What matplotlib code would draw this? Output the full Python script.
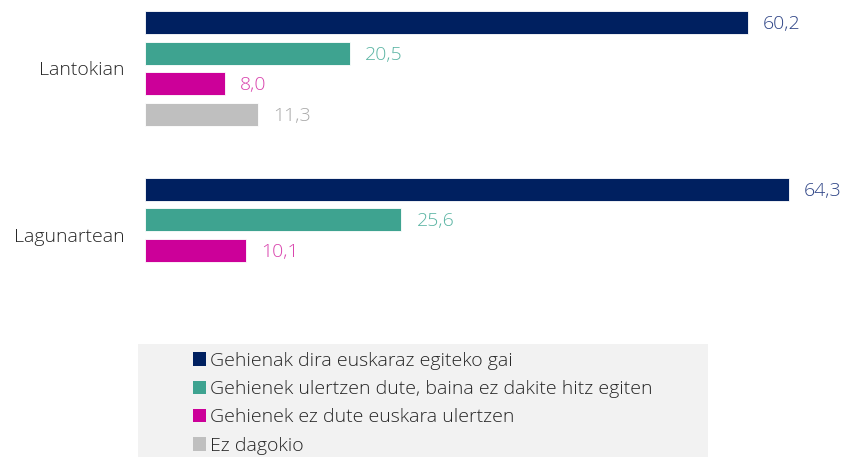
import matplotlib
matplotlib.use("Agg")
import matplotlib.pyplot as plt
from matplotlib.patches import Rectangle
import numpy as np

categories = ["Lantokian", "Lagunartean"]
series = ["Gehienak dira euskaraz egiteko gai",
          "Gehienek ulertzen dute, baina ez dakite hitz egiten",
          "Gehienek ez dute euskara ulertzen",
          "Ez dagokio"]
values = [
    [60.2, 64.3],
    [20.5, 25.6],
    [8.0, 10.1],
    [11.3, None],
]
bar_colors = ["#002060", "#3ea390", "#cc0099", "#bfbfbf"]
label_colors = ["#2e4486", "#5cb5a4", "#d943ad", "#a8a8a8"]

plt.rcParams['font.family'] = ['Open Sans', 'DejaVu Sans']
plt.rcParams['font.weight'] = 300
FS = 14

W, H = 841, 457
fig = plt.figure(figsize=(W / 100, H / 100), dpi=100)
ax = fig.add_axes([145 / W, 1 - 320 / H, 651 / W, 320 / H])

slot = 30.5
group_gap = 166.5 / slot
top_off = 22.5 / slot
ax.set_xlim(0, 65)
ax.set_ylim(320 / slot - top_off, -top_off)

bar_h = 23 / slot
handles = []
for j, (name, vals) in enumerate(zip(series, values)):
    ys, xs = [], []
    for i, v in enumerate(vals):
        if v is None:
            continue
        ys.append(i * group_gap + j)
        xs.append(v)
    b = ax.barh(ys, xs, height=bar_h, color=bar_colors[j], label=name,
                edgecolor="white", linewidth=0.6)
    handles.append(b)
    for y, v in zip(ys, xs):
        ax.text(v + 1.5, y + 0.05, f"{v:.1f}".replace(".", ","), va="center", ha="left",
                fontsize=FS, color=label_colors[j], clip_on=False)

ax.set_yticks([i * group_gap + 1.5 for i in range(len(categories))])
ax.set_yticklabels(categories, fontsize=FS, color="#262626")
ax.tick_params(axis="y", length=0, pad=15)
ax.set_xticks([])
for s in ax.spines.values():
    s.set_visible(False)

fig.patches.append(Rectangle((138 / W, 0), (708 - 138) / W, (457 - 344) / H,
                             transform=fig.transFigure, facecolor="#f2f2f2",
                             edgecolor="none", zorder=0))
leg = fig.legend(handles=handles, loc="upper left",
                 bbox_to_anchor=(185 / W, 1 - 344 / H), frameon=False,
                 fontsize=FS, handlelength=0.68, handleheight=0.68,
                 handletextpad=0.22, labelspacing=0.53, borderaxespad=0,
                 labelcolor="#262626")
for h in leg.legend_handles:
    h.set_edgecolor("none")

fig.savefig("out.png", dpi=100)
